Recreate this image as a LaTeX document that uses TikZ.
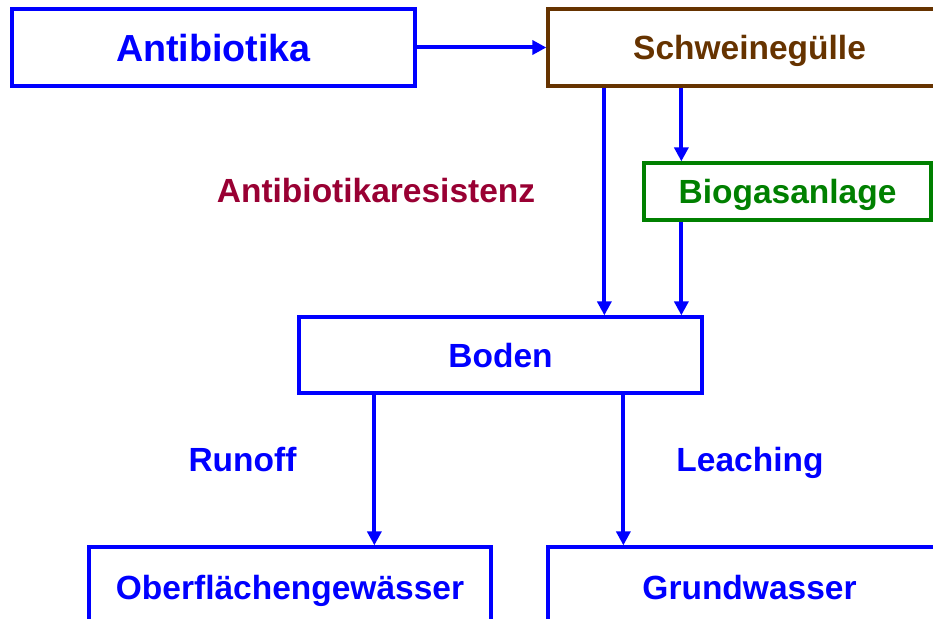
\documentclass[tikz,border=0pt]{standalone}
\usepackage{fontspec}
\setmainfont{Liberation Sans}
\usetikzlibrary{arrows.meta}
\definecolor{cblue}{HTML}{0000FF}
\definecolor{cbrown}{HTML}{663300}
\definecolor{cgreen}{HTML}{008000}
\definecolor{cred}{HTML}{990033}
\tikzset{
  box/.style={draw, line width=3.3pt, fill=white, inner sep=0pt, minimum width=403pt, minimum height=77pt,
    font=\fontsize{33.5}{40}\selectfont\bfseries, text height=24pt, text depth=0pt},
  lbl/.style={inner sep=0pt, font=\fontsize{33.5}{40}\selectfont\bfseries, text height=24pt, text depth=0pt},
  arr/.style={draw=cblue, line width=4pt, -{Triangle[length=14pt,width=14pt]}},
}
\begin{document}
\begin{tikzpicture}[x=1pt,y=-1pt]
\useasboundingbox (0,0) rectangle (933,618);
\clip (0,0) rectangle (933,618);
\node[box, draw=cblue, text=cblue, font=\fontsize{37.7}{44}\selectfont\bfseries, text height=27pt] (a) at (213.5,47.5) {Antibiotika};
\node[box, draw=cbrown, text=cbrown] (s) at (749.5,47.5) {Schweinegülle};
\node[box, draw=cgreen, text=cgreen, minimum width=287pt, minimum height=57pt] (g) at (787.5,191.5) {Biogasanlage};
\node[box, draw=cblue, text=cblue, minimum height=76pt] (b) at (500.5,355) {Boden};
\node[box, draw=cblue, text=cblue, minimum width=402pt, minimum height=80pt] (o) at (290,587) {Oberflächengewässer};
\node[box, draw=cblue, text=cblue, minimum height=80pt] (w) at (749.5,587) {Grundwasser};
\node[lbl, text=cred] (r) at (376,190) {Antibiotikaresistenz};
\node[lbl, text=cblue] (ru) at (242.5,459) {Runoff};
\node[lbl, text=cblue] (le) at (750,459) {Leaching};
\draw[arr] (a.east) -- (s.west);
\draw[arr] ([xshift=58pt]s.south west) -- ([xshift=58pt]s.south west |- b.north);
\draw[arr] ([xshift=39pt]g.north west |- s.south) -- ([xshift=39pt]g.north west);
\draw[arr] ([xshift=39pt]g.south west) -- ([xshift=39pt]g.south west |- b.north);
\draw[arr] ([xshift=77pt]b.south west) -- ([xshift=77pt]b.south west |- o.north);
\draw[arr] ([xshift=326pt]b.south west) -- ([xshift=326pt]b.south west |- w.north);
\end{tikzpicture}
\end{document}
